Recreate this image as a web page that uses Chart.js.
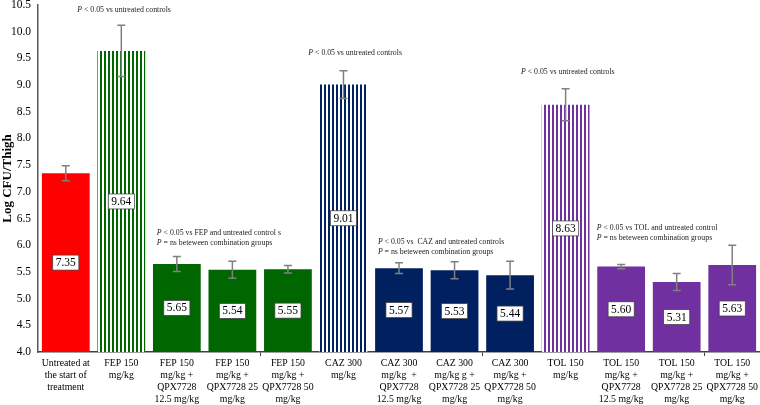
<!DOCTYPE html>
<html>
<head>
<meta charset="utf-8">
<script src="https://cdn.jsdelivr.net/npm/chart.js@4.4.1/dist/chart.umd.min.js"></script>
<style>
  html, body { margin: 0; padding: 0; background: #fff; }
  #wrap { width: 760px; height: 405px; }
</style>
</head>
<body>
<div id="wrap"><canvas id="cfuChart" width="760" height="405"></canvas></div>
<script>
// data
const categories = [
  ["Untreated at", "the start of", "treatment"],
  ["FEP 150", "mg/kg"],
  ["FEP 150", "mg/kg +", "QPX7728", "12.5 mg/kg"],
  ["FEP 150", "mg/kg +", "QPX7728 25", "mg/kg"],
  ["FEP 150", "mg/kg +", "QPX7728 50", "mg/kg"],
  ["CAZ 300", "mg/kg"],
  ["CAZ 300", "mg/kg  +", "QPX7728", "12.5 mg/kg"],
  ["CAZ 300", "mg/kg g +", "QPX7728 25", "mg/kg"],
  ["CAZ 300", "mg/kg +", "QPX7728 50", "mg/kg"],
  ["TOL 150", "mg/kg"],
  ["TOL 150", "mg/kg +", "QPX7728", "12.5 mg/kg"],
  ["TOL 150", "mg/kg +", "QPX7728 25", "mg/kg"],
  ["TOL 150", "mg/kg +", "QPX7728 50", "mg/kg"],
];
const drug = ["none", "FEP", "FEP", "FEP", "FEP", "CAZ", "CAZ", "CAZ", "CAZ", "TOL", "TOL", "TOL", "TOL"];
const regimen = ["control", "mono", "combo", "combo", "combo", "mono", "combo", "combo", "combo", "mono", "combo", "combo", "combo"];
const meanLogCfu = [7.35, 9.64, 5.65, 5.54, 5.55, 9.01, 5.57, 5.53, 5.44, 8.63, 5.60, 5.31, 5.63];
const sdLogCfu = [0.14, 0.48, 0.14, 0.16, 0.07, 0.26, 0.10, 0.16, 0.26, 0.30, 0.04, 0.16, 0.37];
const yMin = 4.0;
const yMax = 10.5;
const yStep = 0.5;

// significance notes: [category position, y value, align, lines]
const notes = [
  [1.05, 10.40, "center", [["P", " < 0.05 vs untreated controls"]]],
  [5.21, 9.60, "center", [["P", " < 0.05 vs untreated controls"]]],
  [9.04, 9.24, "center", [["P", " < 0.05 vs untreated controls"]]],
  [1.64, 6.23, "left", [["P", " < 0.05 vs FEP and untreated control s"], ["P", " = ns beteween combination groups"]]],
  [5.62, 6.07, "left", [["P", " < 0.05 vs  CAZ and untreated controls"], ["P", " = ns beteween combination groups"]]],
  [9.56, 6.32, "left", [["P", " < 0.05 vs TOL and untreated control"], ["P", " = ns beteween combination groups"]]],
];

const SERIF = "'Liberation Serif', 'Times New Roman', serif";
const drugColors = { none: "#ff0000", FEP: "#006600", CAZ: "#002060", TOL: "#7030a0" };

function stripes(color) {
  const c = document.createElement("canvas");
  c.width = 4;
  c.height = 4;
  const g = c.getContext("2d");
  g.fillStyle = "#ffffff";
  g.fillRect(0, 0, 4, 4);
  g.fillStyle = color;
  g.fillRect(0, 0, 2, 4);
  return g.createPattern(c, "repeat");
}

const ctx = document.getElementById("cfuChart").getContext("2d");
const fills = drug.map((d, i) =>
  regimen[i] === "mono" ? stripes(drugColors[d]) : drugColors[d]
);

const errorBars = {
  id: "errorBars",
  afterDatasetsDraw(chart) {
    const y = chart.scales.y;
    const meta = chart.getDatasetMeta(0);
    const c = chart.ctx;
    c.save();
    c.strokeStyle = "#808080";
    c.lineWidth = 1.5;
    meta.data.forEach((bar, i) => {
      const top = y.getPixelForValue(meanLogCfu[i] + sdLogCfu[i]);
      const bot = y.getPixelForValue(meanLogCfu[i] - sdLogCfu[i]);
      c.beginPath();
      c.moveTo(bar.x, top);
      c.lineTo(bar.x, bot);
      c.moveTo(bar.x - 4, top);
      c.lineTo(bar.x + 4, top);
      c.moveTo(bar.x - 4, bot);
      c.lineTo(bar.x + 4, bot);
      c.stroke();
    });
    c.restore();
  },
};

const valueBoxes = {
  id: "valueBoxes",
  afterDatasetsDraw(chart) {
    const y = chart.scales.y;
    const meta = chart.getDatasetMeta(0);
    const c = chart.ctx;
    c.save();
    c.font = "11.5px " + SERIF;
    c.textAlign = "center";
    c.textBaseline = "middle";
    meta.data.forEach((bar, i) => {
      const txt = meanLogCfu[i].toFixed(2);
      const cy = (y.getPixelForValue(meanLogCfu[i]) + y.getPixelForValue(yMin)) / 2;
      const w = c.measureText(txt).width + 6;
      const h = 15;
      c.fillStyle = "#ffffff";
      c.fillRect(bar.x - w / 2, cy - h / 2, w, h);
      c.strokeStyle = "#404040";
      c.lineWidth = 0.75;
      c.strokeRect(bar.x - w / 2, cy - h / 2, w, h);
      c.fillStyle = "#000000";
      c.fillText(txt, bar.x, cy + 0.5);
    });
    c.restore();
  },
};

const sigNotes = {
  id: "sigNotes",
  afterDraw(chart) {
    const xs = chart.scales.x;
    const ys = chart.scales.y;
    const c = chart.ctx;
    c.save();
    c.fillStyle = "#1a1a1a";
    c.textBaseline = "middle";
    c.textAlign = "left";
    const italic = "italic 7.8px " + SERIF;
    const plain = "7.8px " + SERIF;
    notes.forEach(([pos, val, align, lines]) => {
      const px = xs.getPixelForValue(pos);
      const py0 = ys.getPixelForValue(val);
      lines.forEach(([p, rest], k) => {
        c.font = italic;
        const wp = c.measureText(p).width;
        c.font = plain;
        const wr = c.measureText(rest).width;
        const x0 = align === "center" ? px - (wp + wr) / 2 : px;
        const py = py0 + k * 10;
        c.font = italic;
        c.fillText(p, x0, py);
        c.font = plain;
        c.fillText(rest, x0 + wp, py);
      });
    });
    c.restore();
  },
};

new Chart(ctx, {
  type: "bar",
  data: {
    labels: categories,
    datasets: [
      {
        data: meanLogCfu,
        backgroundColor: fills,
        borderWidth: 0,
        barPercentage: 0.86,
        categoryPercentage: 1.0,
      },
    ],
  },
  options: {
    responsive: false,
    devicePixelRatio: 1,
    animation: false,
    layout: { padding: { top: 5, right: 0, left: 0, bottom: 0 } },
    plugins: {
      legend: { display: false },
      tooltip: { enabled: false },
    },
    scales: {
      x: {
        afterFit: (scale) => {
          scale.height = 53;
          scale.paddingLeft = 0;
          scale.paddingRight = 0;
        },
        grid: {
          offset: true,
          drawOnChartArea: false,
          drawTicks: true,
          tickLength: 4,
          tickColor: (c) => ([4, 8, 12].includes(c.index) ? "#404040" : "rgba(0,0,0,0)"),
        },
        border: { color: "#404040", width: 1.5 },
        ticks: {
          autoSkip: false,
          maxRotation: 0,
          minRotation: 0,
          padding: 2,
          color: "#000",
          font: { family: SERIF, size: 9.8, lineHeight: 1.2 },
        },
      },
      y: {
        min: yMin,
        max: yMax,
        afterFit: (scale) => {
          scale.width = 38;
          scale.paddingTop = 0;
          scale.paddingBottom = 0;
        },
        grid: { display: false, drawTicks: false },
        border: { color: "#595959", width: 1.5 },
        ticks: {
          stepSize: yStep,
          padding: 7,
          color: "#000",
          font: { family: SERIF, size: 11.5 },
          callback: (v) => Number(v).toFixed(1),
        },
        title: {
          display: true,
          text: "Log CFU/Thigh",
          color: "#000",
          padding: 0,
          font: { family: SERIF, size: 13, weight: "bold" },
        },
      },
    },
  },
  plugins: [errorBars, valueBoxes, sigNotes],
});
</script>
</body>
</html>
